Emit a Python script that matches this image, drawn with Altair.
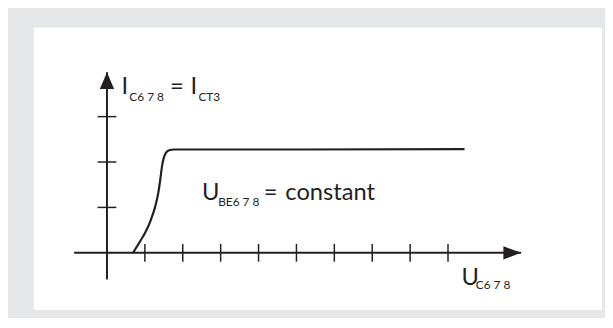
import altair as alt
import pandas as pd

# ---- data (in axis units: x tick spacing = 1, y tick spacing = 1) ----
curve_x = [0.6875, 0.859, 1.034, 1.164, 1.276, 1.354, 1.406, 1.451, 1.495, 1.555,
           1.641, 1.771, 2.076, 4.992, 9.437]
curve_y = [0.0, 0.233, 0.485, 0.739, 1.028, 1.320, 1.609, 1.898, 2.080, 2.202,
           2.261, 2.276, 2.276, 2.276, 2.283]

x_ticks = [1, 2, 3, 4, 5, 6, 7, 8, 9]
y_ticks = [1, 2, 3]

x_axis_start, x_axis_tip = -0.867, 10.93
y_axis_start, y_axis_tip = -0.587, 3.978

# label pieces: main-size text and subscript text (anchor in axis units)
main_text = ["I", "=", "I", "U", "=", "constant", "U"]
main_x = [0.383, 1.660, 2.206, 2.505, 4.135, 4.706, 9.354]
main_y = [3.5, 3.5, 3.5, 1.174, 1.174, 1.174, -0.717]

sub_text = ["C6 7 8", "CT3", "BE6 7 8", "C6 7 8"]
sub_x = [0.591, 2.414, 2.935, 9.732]
sub_y = [3.348, 3.348, 1.022, -0.804]

# ---- scales ----
INK = "#231f20"
xs = alt.Scale(domain=[-1.935, 13.065], nice=False, zero=False)
ys = alt.Scale(domain=[-1.261, 4.957], nice=False, zero=False)

curve_df = pd.DataFrame({"x": curve_x, "y": curve_y, "i": range(len(curve_x))})
xt_df = pd.DataFrame({"x": x_ticks, "y": [0] * len(x_ticks)})
yt_df = pd.DataFrame({"y": y_ticks, "x": [0] * len(y_ticks)})
xaxis_df = pd.DataFrame({"x": [x_axis_start], "x2": [x_axis_tip], "y": [0]})
yaxis_df = pd.DataFrame({"y": [y_axis_start], "y2": [y_axis_tip], "x": [0]})
xarrow_df = pd.DataFrame({"x": [x_axis_tip], "y": [0]})
yarrow_df = pd.DataFrame({"x": [0], "y": [y_axis_tip]})
main_df = pd.DataFrame({"x": main_x, "y": main_y, "t": main_text})
sub_df = pd.DataFrame({"x": sub_x, "y": sub_y, "t": sub_text})

X = lambda f="x": alt.X(f"{f}:Q", scale=xs, axis=None)
Y = lambda f="y": alt.Y(f"{f}:Q", scale=ys, axis=None)

x_axis = alt.Chart(xaxis_df).mark_rule(color=INK, strokeWidth=2).encode(
    x=X(), x2="x2:Q", y=Y())
y_axis = alt.Chart(yaxis_df).mark_rule(color=INK, strokeWidth=2).encode(
    y=Y(), y2="y2:Q", x=X())

x_tick_marks = alt.Chart(xt_df).mark_tick(
    color=INK, orient="vertical", size=18, thickness=1.5, opacity=1).encode(x=X(), y=Y())
y_tick_marks = alt.Chart(yt_df).mark_tick(
    color=INK, orient="horizontal", size=19, thickness=1.5, opacity=1).encode(x=X(), y=Y())

x_arrow = alt.Chart(xarrow_df).mark_point(
    shape="M0,0L-2,-0.744L-2,0.744Z", size=324, filled=True, color=INK,
    opacity=1, strokeWidth=0).encode(x=X(), y=Y())
y_arrow = alt.Chart(yarrow_df).mark_point(
    shape="M0,0L-0.85,2L0.85,2Z", size=289, filled=True, color=INK,
    opacity=1, strokeWidth=0).encode(x=X(), y=Y())

curve = alt.Chart(curve_df).mark_line(
    color=INK, strokeWidth=2.2, interpolate="monotone").encode(
    x=X(), y=Y(), order="i:Q")

main_labels = alt.Chart(main_df).mark_text(
    align="left", baseline="alphabetic", font="Lato", fontSize=24,
    color=INK).encode(x=X(), y=Y(), text="t:N")
sub_labels = alt.Chart(sub_df).mark_text(
    align="left", baseline="alphabetic", font="Lato", fontSize=12,
    color=INK).encode(x=X(), y=Y(), text="t:N")

chart = alt.layer(
    x_axis, y_axis, x_tick_marks, y_tick_marks, x_arrow, y_arrow, curve,
    main_labels, sub_labels
).properties(
    width=576, height=286,
    padding={"left": 26, "top": 18, "right": 3, "bottom": 6},
    autosize="none",
    background="#e6e7e8",
).configure_view(fill="white", strokeWidth=0)

chart.save("out.html", embed_options={"renderer": "svg", "actions": False})
